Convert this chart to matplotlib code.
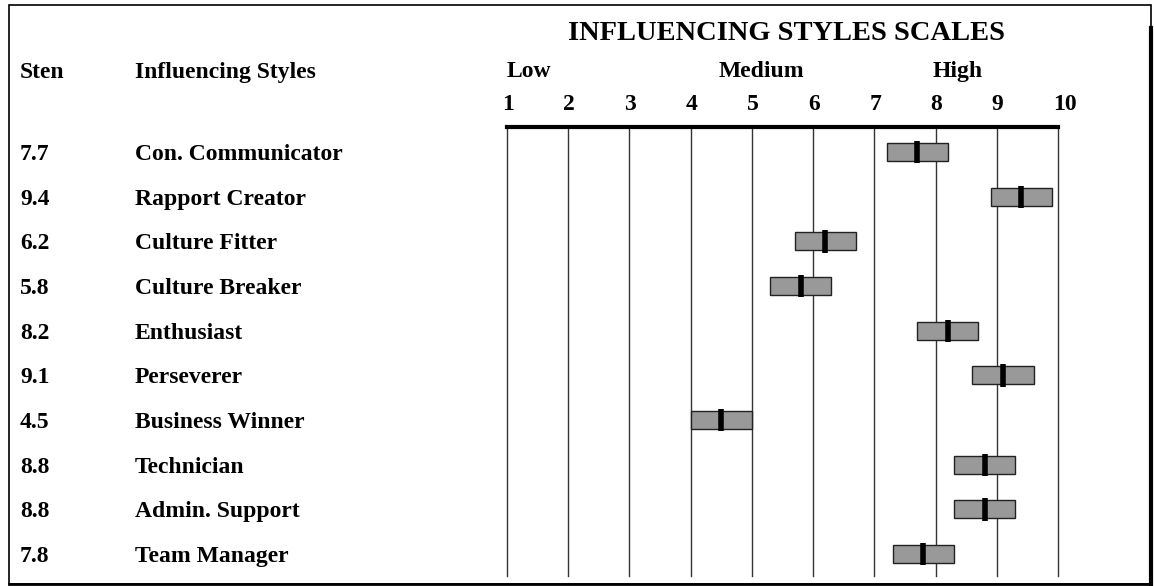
import matplotlib.pyplot as plt
import matplotlib.transforms as mtransforms
from matplotlib.patches import Rectangle

plt.rcParams['font.family'] = ['Liberation Serif', 'DejaVu Serif']
plt.rcParams['font.weight'] = 'bold'

styles = ["Con. Communicator", "Rapport Creator", "Culture Fitter", "Culture Breaker",
          "Enthusiast", "Perseverer", "Business Winner", "Technician",
          "Admin. Support", "Team Manager"]
stens = [7.7, 9.4, 6.2, 5.8, 8.2, 9.1, 4.5, 8.8, 8.8, 7.8]
scale_ticks = [1, 2, 3, 4, 5, 6, 7, 8, 9, 10]
bands = ["Low", "Medium", "High"]
band_starts = [1, 4.45, 7.95]

W, H = 1154, 586
fig = plt.figure(figsize=(W / 100, H / 100), dpi=100)

# chart area: x 507..1058 px, y 127..576 px
ax = fig.add_axes([507 / W, 1 - 576 / H, (1058 - 507) / W, (576 - 127) / H])
ax.set_xlim(1, 10)
ax.set_ylim(9.49, -0.56)
ax.axis('off')

for t in scale_ticks:
    ax.axvline(t, color='#333333', lw=1.0, zorder=1, clip_on=False)
ax.axhline(-0.56, color='black', lw=3, zorder=3, clip_on=False)

rows = range(len(styles))
ax.barh(rows, [1.0] * len(stens), left=[s - 0.5 for s in stens], height=0.4,
        color='#999999', edgecolor='#222222', lw=1, zorder=2)
ax.errorbar(stens, rows, yerr=0.25, fmt='none', ecolor='black', elinewidth=4,
            capsize=0, zorder=4)

fs = 17
down = mtransforms.ScaledTranslation(0, -8 / 100, fig.dpi_scale_trans)
# left-hand columns (baseline a little below the row centre)
tr = mtransforms.blended_transform_factory(fig.transFigure, ax.transData) + down
for i, (s, name) in enumerate(zip(stens, styles)):
    fig.text(20 / W, i, f"{s:.1f}", transform=tr, fontsize=fs, va='baseline', ha='left')
    fig.text(135 / W, i, name, transform=tr, fontsize=fs, va='baseline', ha='left')

# headers
fig.text(786 / W, 1 - 40 / H, "INFLUENCING STYLES SCALES", fontsize=20.5,
         ha='center', va='baseline')
fig.text(20 / W, 1 - 78 / H, "Sten", fontsize=fs, ha='left', va='baseline')
fig.text(135 / W, 1 - 78 / H, "Influencing Styles", fontsize=fs, ha='left', va='baseline')
txr = mtransforms.blended_transform_factory(ax.transData, fig.transFigure)
for label, x0 in zip(bands, band_starts):
    fig.text(x0, 1 - 77 / H, label, transform=txr, fontsize=fs, ha='left', va='baseline')
num_tr = txr + mtransforms.ScaledTranslation(-5 / 100, 0, fig.dpi_scale_trans)
for t in scale_ticks:
    fig.text(t, 1 - 110 / H, str(t), transform=num_tr, fontsize=fs, ha='left', va='baseline')

# outer frame with shadow on right/bottom
fig.patches.append(Rectangle((9 / W, 1 - 584 / H), (1151 - 9) / W, (584 - 5) / H,
                             transform=fig.transFigure, fill=False, ec='black', lw=1.2))
fig.add_artist(plt.Line2D([1151 / W, 1151 / W], [1 - 584 / H, 1 - 28 / H],
                          transform=fig.transFigure, color='black', lw=3))
fig.add_artist(plt.Line2D([9 / W, 1151 / W], [1 - 584 / H, 1 - 584 / H],
                          transform=fig.transFigure, color='black', lw=2))

fig.savefig('out.png', dpi=100)
